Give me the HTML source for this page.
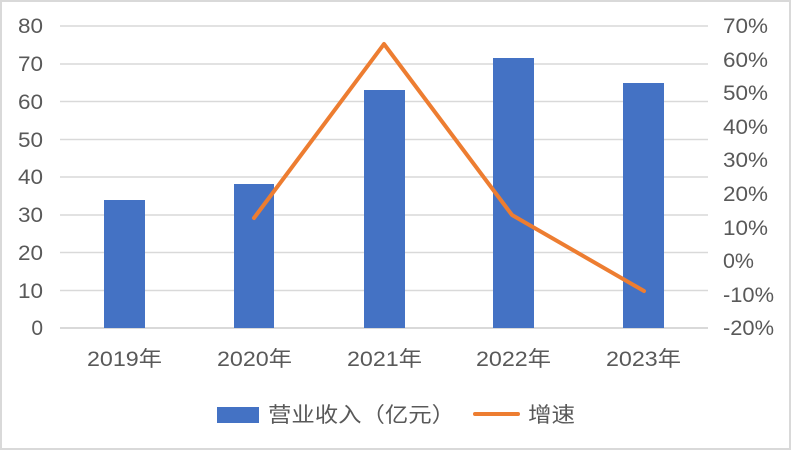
<!DOCTYPE html>
<html><head><meta charset="utf-8"><style>
html,body{margin:0;padding:0;background:#fff;}
svg{display:block;}
text{font-family:"Liberation Sans","Noto Sans CJK SC",sans-serif;fill:#595959;}
</style></head><body>
<svg width="794" height="452" viewBox="0 0 794 452" xmlns="http://www.w3.org/2000/svg">
<rect x="0" y="0" width="794" height="452" fill="#fff"/>
<rect x="1" y="1" width="789" height="448" fill="none" stroke="#d9d9d9" stroke-width="2"/>
<g stroke="#d9d9d9" stroke-width="1.5">
<line x1="60" y1="26" x2="708" y2="26"/>
<line x1="60" y1="64" x2="708" y2="64"/>
<line x1="60" y1="101.5" x2="708" y2="101.5"/>
<line x1="60" y1="139.5" x2="708" y2="139.5"/>
<line x1="60" y1="177" x2="708" y2="177"/>
<line x1="60" y1="215" x2="708" y2="215"/>
<line x1="60" y1="252.5" x2="708" y2="252.5"/>
<line x1="60" y1="290.5" x2="708" y2="290.5"/>
<line x1="60" y1="328" x2="708" y2="328" stroke-width="2"/>
</g>
<g fill="#4472C4">
<rect x="104" y="200" width="41" height="128"/>
<rect x="234" y="184" width="40" height="144"/>
<rect x="364" y="90" width="41" height="238"/>
<rect x="493" y="58" width="41" height="270"/>
<rect x="623" y="83" width="41" height="245"/>
</g>
<polyline points="254,218 384,44 512,215 644,291" fill="none" stroke="#ED7D31" stroke-width="4" stroke-linejoin="round" stroke-linecap="round"/>
<g font-size="21" text-anchor="end">
<text x="43" y="33" textLength="25" lengthAdjust="spacingAndGlyphs">80</text>
<text x="43" y="71" textLength="25" lengthAdjust="spacingAndGlyphs">70</text>
<text x="43" y="109" textLength="25" lengthAdjust="spacingAndGlyphs">60</text>
<text x="43" y="147" textLength="25" lengthAdjust="spacingAndGlyphs">50</text>
<text x="43" y="184" textLength="25" lengthAdjust="spacingAndGlyphs">40</text>
<text x="43" y="222" textLength="25" lengthAdjust="spacingAndGlyphs">30</text>
<text x="43" y="260" textLength="25" lengthAdjust="spacingAndGlyphs">20</text>
<text x="43" y="298" textLength="25" lengthAdjust="spacingAndGlyphs">10</text>
<text x="43" y="335">0</text>
</g>
<g font-size="21">
<text x="723" y="33" textLength="45" lengthAdjust="spacingAndGlyphs">70%</text>
<text x="723" y="67" textLength="45" lengthAdjust="spacingAndGlyphs">60%</text>
<text x="723" y="100" textLength="45" lengthAdjust="spacingAndGlyphs">50%</text>
<text x="723" y="134" textLength="45" lengthAdjust="spacingAndGlyphs">40%</text>
<text x="723" y="167" textLength="45" lengthAdjust="spacingAndGlyphs">30%</text>
<text x="723" y="201" textLength="45" lengthAdjust="spacingAndGlyphs">20%</text>
<text x="723" y="235" textLength="45" lengthAdjust="spacingAndGlyphs">10%</text>
<text x="723" y="268" textLength="31" lengthAdjust="spacingAndGlyphs">0%</text>
<text x="723" y="302" textLength="51" lengthAdjust="spacingAndGlyphs">-10%</text>
<text x="723" y="335" textLength="51" lengthAdjust="spacingAndGlyphs">-20%</text>
</g>
<g font-size="21">
<text x="87" y="366" textLength="75" lengthAdjust="spacingAndGlyphs">2019年</text>
<text x="217" y="366" textLength="75" lengthAdjust="spacingAndGlyphs">2020年</text>
<text x="347" y="366" textLength="75" lengthAdjust="spacingAndGlyphs">2021年</text>
<text x="476" y="366" textLength="75" lengthAdjust="spacingAndGlyphs">2022年</text>
<text x="606" y="366" textLength="75" lengthAdjust="spacingAndGlyphs">2023年</text>
</g>
<rect x="217" y="407" width="42" height="16" fill="#4472C4"/>
<text x="268" y="422" font-size="21" textLength="187" lengthAdjust="spacingAndGlyphs">营业收入（亿元）</text>
<line x1="475" y1="414" x2="518" y2="414" stroke="#ED7D31" stroke-width="4" stroke-linecap="round"/>
<text x="528" y="422" font-size="21" textLength="47" lengthAdjust="spacingAndGlyphs">增速</text>
</svg>
</body></html>
